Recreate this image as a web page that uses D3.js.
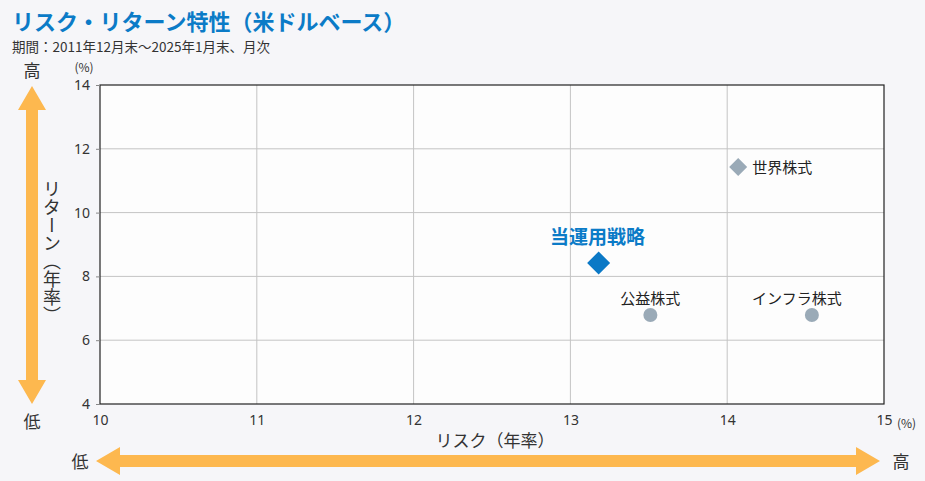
<!DOCTYPE html>
<html><head><meta charset="utf-8">
<script src="https://cdn.jsdelivr.net/npm/d3@7"></script>
<style>
body{margin:0;background:#f6f6f9;}
svg{display:block;font-family:"Noto Sans CJK JP","Noto Sans",sans-serif;}
</style></head><body>
<svg id="c" width="925" height="481"></svg>
<script>
const names = ["当運用戦略","世界株式","公益株式","インフラ株式"];
const risk = [13.18, 14.07, 13.51, 14.54];
const ret = [8.42, 11.43, 6.79, 6.79];
const shapes = ["diamondL","diamond","circle","circle"];
const xTicks = [10,11,12,13,14,15];
const yTicks = [4,6,8,10,12,14];

const svg = d3.select("#c");
const L=100,R=884,T=85,B=404;
const x = d3.scaleLinear().domain([10,15]).range([L,R]);
const y = d3.scaleLinear().domain([4,14]).range([B,T]);
const orange="#fdb84f", dark="#333";

svg.append("text").attr("x",12).attr("y",30).attr("fill","#0b7bc7").attr("font-size",22).attr("font-weight","bold").text("リスク・リターン特性（米ドルベース）");
svg.append("text").attr("x",12).attr("y",52).attr("fill",dark).attr("font-size",13.5).text("期間：2011年12月末～2025年1月末、月次");

svg.append("rect").attr("x",L).attr("y",T).attr("width",R-L).attr("height",B-T).attr("fill","#fdfdfd");
// grid
svg.append("g").selectAll("line").data(xTicks.slice(1,-1)).join("line")
 .attr("x1",d=>x(d)).attr("x2",d=>x(d)).attr("y1",T).attr("y2",B).attr("stroke","#c4c4c4");
svg.append("g").selectAll("line").data(yTicks.slice(1,-1)).join("line")
 .attr("x1",L).attr("x2",R).attr("y1",d=>y(d)).attr("y2",d=>y(d)).attr("stroke","#c4c4c4");
svg.append("rect").attr("x",L).attr("y",T).attr("width",R-L).attr("height",B-T).attr("fill","none").attr("stroke","#222").attr("stroke-width",1.2);

const ya = svg.append("g").attr("transform",`translate(${L},0)`).call(d3.axisLeft(y).tickValues(yTicks).tickFormat(d3.format("d")).tickSize(4).tickPadding(6));
ya.select(".domain").remove();
ya.selectAll("line").attr("stroke","#888");
ya.selectAll("text").attr("font-size",14).attr("fill",dark).attr("font-family","Noto Sans");
const xa = svg.append("g").attr("transform",`translate(0,${B})`).call(d3.axisBottom(x).tickValues(xTicks).tickFormat(d3.format("d")).tickSize(0).tickPadding(11));
xa.select(".domain").remove();
xa.selectAll("text").attr("font-size",14).attr("fill",dark).attr("font-family","Noto Sans");
svg.append("text").attr("x",897).attr("y",428).attr("font-size",12).attr("fill",dark).text("(%)");
svg.append("text").attr("x",84).attr("y",72).attr("text-anchor","middle").attr("font-size",12).attr("fill",dark).text("(%)");

svg.append("text").attr("x",495).attr("y",447).attr("text-anchor","middle").attr("font-size",17).attr("fill",dark).text("リスク（年率）");
svg.append("text").attr("x",52).attr("y",252).attr("text-anchor","middle").attr("font-size",18).attr("fill",dark)
 .style("writing-mode","vertical-rl").text("リターン（年率）");

// arrows
svg.append("path").attr("fill",orange).attr("d",
 "M32,86 L46,110 L38,110 L38,380 L46,380 L32,404 L18,380 L26,380 L26,110 L18,110 Z");
svg.append("path").attr("fill",orange).attr("d",
 "M96,461 L120,447 L120,455 L856,455 L856,447 L880,461 L856,475 L856,467 L120,467 L120,475 Z");
svg.append("text").attr("x",32).attr("y",77).attr("text-anchor","middle").attr("font-size",17).attr("fill",dark).text("高");
svg.append("text").attr("x",32).attr("y",428).attr("text-anchor","middle").attr("font-size",17).attr("fill",dark).text("低");
svg.append("text").attr("x",80).attr("y",468).attr("text-anchor","middle").attr("font-size",17).attr("fill",dark).text("低");
svg.append("text").attr("x",901).attr("y",468).attr("text-anchor","middle").attr("font-size",17).attr("fill",dark).text("高");

// points
const data = names.map((n,i)=>({n,x:risk[i],y:ret[i],s:shapes[i]}));
const g = svg.append("g");
data.forEach(d=>{
  const px=x(d.x), py=y(d.y);
  if(d.s==="circle"){
    g.append("circle").attr("cx",px).attr("cy",py).attr("r",7).attr("fill","#9aaab7");
  } else {
    const h = d.s==="diamondL"?11.5:9;
    g.append("path").attr("d",`M${px},${py-h}L${px+h},${py}L${px},${py+h}L${px-h},${py}Z`)
     .attr("fill",d.s==="diamondL"?"#0b79c6":"#9aaab7");
  }
});
// labels
g.append("text").attr("x",x(risk[0])-1).attr("y",y(ret[0])-19).attr("text-anchor","middle").attr("font-size",19).attr("font-weight","bold").attr("fill","#0b7bc7").text(names[0]);
g.append("text").attr("x",x(risk[1])+14).attr("y",y(ret[1])+6).attr("font-size",15).attr("fill","#222").text(names[1]);
g.append("text").attr("x",x(risk[2])).attr("y",y(ret[2])-11).attr("text-anchor","middle").attr("font-size",15).attr("fill","#222").text(names[2]);
g.append("text").attr("x",x(risk[3])-15).attr("y",y(ret[3])-11).attr("text-anchor","middle").attr("font-size",15).attr("fill","#222").text(names[3]);
</script></body></html>
